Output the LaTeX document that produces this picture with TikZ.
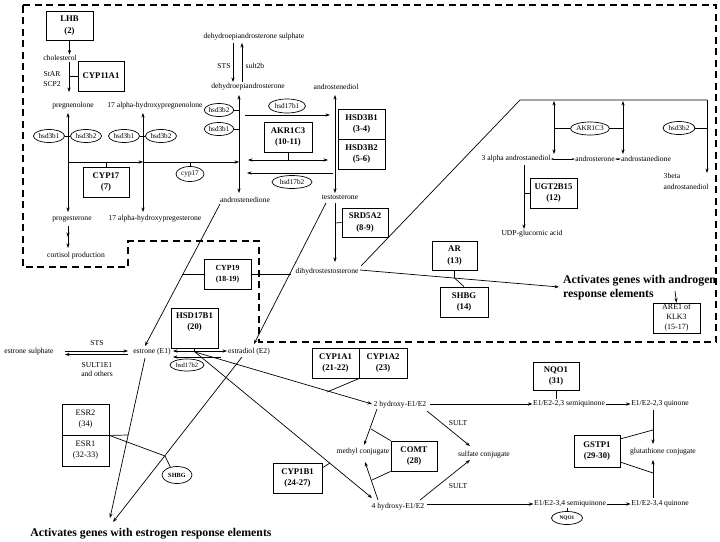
\documentclass[tikz,border=0pt]{standalone}
\usepackage{fontspec}
\setmainfont{Liberation Serif}
\usetikzlibrary{arrows.meta,shapes.geometric,calc,decorations.markings}
\begin{document}
\begin{tikzpicture}[x=1pt,y=-1pt,
  lbl/.style={font=\fontsize{7.6}{8.5}\selectfont, inner sep=0.5pt},
  bx/.style={draw, line width=0.8pt, font=\bfseries\fontsize{8.7}{11.5}\selectfont, align=center, inner sep=0pt, minimum width=47pt, minimum height=30pt},
  ell/.style={draw, ellipse, line width=0.7pt, font=\fontsize{7.2}{8}\selectfont, inner sep=0pt, minimum width=31pt, minimum height=13pt},
  ln/.style={line width=0.7pt},
  arr/.style={ln, -{Stealth[length=4.5pt,width=3.2pt]}},
  darr/.style={ln, {Stealth[length=4.5pt,width=3.2pt]}-{Stealth[length=4.5pt,width=3.2pt]}},
  sarr/.style={line width=0.5pt, {Stealth[length=2.5pt,width=2pt]}-{Stealth[length=2.5pt,width=2pt]}},
  big/.style={font=\bfseries\fontsize{11.8}{14}\selectfont, inner sep=0pt},
  bound/.style={line width=1.8pt, dash pattern=on 7pt off 4.5pt},
]
\useasboundingbox (0,0) rectangle (720,541);
\fill[white] (0,0) rectangle (720,541);

% dashed boundary
\draw[bound] (23,5) -- (716,5) -- (716,342) -- (259,342) -- (259,241) -- (128,241) -- (128,267) -- (23,267) -- cycle;

% ---------- boxes ----------
\node[bx, minimum height=29pt] (lhb) at (69.5,25.5) {LHB\\(2)};
\node[bx, minimum width=46pt] (cyp11a1) at (101,76) {CYP11A1};
\node[bx, minimum width=46pt] (cyp17) at (106,182) {CYP17\\(7)};
\node[bx, minimum width=48pt] (akr1c3) at (288,137) {AKR1C3\\(10-11)};
\node[bx] (hsd3b1) at (361.5,124) {HSD3B1\\(3-4)};
\node[bx] (hsd3b2) at (361.5,154) {HSD3B2\\(5-6)};
\node[bx, minimum width=46pt, minimum height=29pt] (srd5a2) at (365,222.5) {SRD5A2\\(8-9)};
\node[bx] (ugt) at (553.5,193) {UGT2B15\\(12)};
\node[bx, font=\bfseries\fontsize{7.8}{11}\selectfont] (cyp19) at (227.5,274) {CYP19\\(18-19)};
\node[bx, minimum width=45pt, minimum height=29pt] (ar) at (454.5,255.5) {AR\\(13)};
\node[bx, minimum width=48pt] (shbg14) at (464,302) {SHBG\\(14)};
\node[bx, font=\fontsize{8}{10}\selectfont] (are1) at (676.5,318) {ARE1 of\\KLK3\\(15-17)};
\node[bx, minimum height=40pt] (hsd17b1) at (194.5,328) {HSD17B1\\(20)\\[2pt]};
\node[bx] (cyp1a1) at (335.5,363) {CYP1A1\\(21-22)};
\node[bx, minimum width=48pt] (cyp1a2) at (383,363) {CYP1A2\\(23)};
\node[bx, minimum width=46pt, minimum height=28pt] (nqo1) at (556,376) {NQO1\\(31)};
\node[bx, minimum width=46pt] (comt) at (414,456) {COMT\\(28)};
\node[bx, minimum width=46pt, minimum height=32pt] (gstp1) at (597,451) {GSTP1\\(29-30)};
\node[bx, minimum width=49pt] (cyp1b1) at (297.5,478) {CYP1B1\\(24-27)};
\node[bx, minimum height=31pt, font=\fontsize{8.4}{11}\selectfont] (esr2) at (85.5,419.5) {ESR2\\(34)};
\node[bx, minimum height=31pt, font=\fontsize{8.4}{11}\selectfont] (esr1) at (85.5,450.5) {ESR1\\(32-33)};

% ---------- ellipses ----------
\node[ell] (e_hsd3b1a) at (49,136) {hsd3b1};
\node[ell] (e_hsd3b2a) at (86,136) {hsd3b2};
\node[ell] (e_hsd3b1b) at (124,136) {hsd3b1};
\node[ell] (e_hsd3b2b) at (161,136) {hsd3b2};
\node[ell, minimum width=28pt, minimum height=15pt] (e_cyp17) at (190,174) {cyp17};
\node[ell, minimum width=29pt] (e_hsd3b2c) at (219,110) {hsd3b2};
\node[ell, minimum width=29pt] (e_hsd3b1c) at (219,129) {hsd3b1};
\node[ell, minimum width=37pt, minimum height=14pt] (e_hsd17b1) at (287,106) {hsd17b1};
\node[ell, minimum width=40pt, minimum height=13pt] (e_hsd17b2) at (292,182) {hsd17b2};
\node[ell, minimum width=39pt] (e_akr) at (590,128.5) {AKR1C3};
\node[ell, minimum width=32pt] (e_hsd3b2d) at (679,128) {hsd3b2};
\node[ell, minimum width=34pt, minimum height=12pt, font=\fontsize{6.6}{8}\selectfont] (e_hsd17b2f) at (187,365) {hsd17b2};
\node[ell, minimum width=30pt, minimum height=17pt, font=\bfseries\fontsize{6.3}{8}\selectfont] (e_shbg) at (177,475) {SHBG};
\node[ell, minimum width=31pt, minimum height=13pt, font=\bfseries\fontsize{5.3}{7}\selectfont] (e_nqo1) at (567,518) {NQO1};

% ---------- labels ----------
\node[lbl] (chol) at (60,58) {cholesterol};
\node[lbl] (star) at (52,74) {StAR};
\node[lbl] (scp2) at (52,84) {SCP2};
\node[lbl] (preg) at (73,106) {pregnenolone};
\node[lbl] (ohpreg) at (155,106) {17 alpha-hydroxypregnenolone};
\node[lbl] (prog) at (72,219) {progesterone};
\node[lbl] (ohprog) at (155,219) {17 alpha-hydroxypregesterone};
\node[lbl] (cort) at (76,256) {cortisol production};
\node[lbl] (dheas) at (254,37) {dehydroepiandrosterone sulphate};
\node[lbl] (sts1) at (224,66) {STS};
\node[lbl] (sult2b) at (255,66) {sult2b};
\node[lbl] (dhea) at (248,87) {dehydroepiandrosterone};
\node[lbl] (adiol) at (336,87) {androstenediol};
\node[lbl] (adione) at (245,200) {androstenedione};
\node[lbl] (testo) at (340,197) {testosterone};
\node[lbl] (dht) at (327,272) {dihydrostestosterone};
\node[lbl] (aadiol) at (516,159) {3 alpha androstanediol};
\node[lbl] (asterone) at (595,159) {androsterone};
\node[lbl] (asdione) at (646,159) {androstanedione};
\node[lbl, align=left, anchor=north west, font=\fontsize{7.6}{11}\selectfont] (bdiol) at (663,173) {3beta\\androstanediol};
\node[lbl] (udp) at (532,234) {UDP-glucornic acid};
\node[lbl] (esul) at (29,352) {estrone sulphate};
\node[lbl] (sts2) at (97,343) {STS};
\node[lbl, align=center, font=\fontsize{7.6}{9}\selectfont] (sult1e1) at (97,369.5) {SULT1E1\\and others};
\node[lbl] (e1) at (152,352) {estrone (E1)};
\node[lbl] (e2) at (249,352) {estradiol (E2)};
\node[lbl] (oh2) at (400,405) {2 hydroxy-E1/E2};
\node[lbl] (oh4) at (398,507) {4 hydroxy-E1/E2};
\node[lbl] (meth) at (363,452) {methyl conjugate};
\node[lbl] (sulf) at (484,455) {sulfate conjugate};
\node[lbl] (sult1) at (458,423) {SULT};
\node[lbl] (sult2) at (458,486) {SULT};
\node[lbl] (sq23) at (569,404) {E1/E2-2,3 semiquinone};
\node[lbl] (q23) at (660,404) {E1/E2-2,3 quinone};
\node[lbl] (glut) at (663,452) {glutathione conjugate};
\node[lbl] (sq34) at (570,504) {E1/E2-3,4 semiquinone};
\node[lbl] (q34) at (660,504) {E1/E2-3,4 quinone};
\node[big, align=left, anchor=north west] (actA) at (563,275) {Activates genes with androgen\\response elements};
\node[big] (actE) at (151,534) {Activates genes with estrogen response elements};

% ---------- connectors: top left ----------
\draw[arr] (lhb.south) -- (lhb.south |- chol.north);
\draw[arr] (69,62) -- (69,92);
\draw[ln] (69,76) -- (cyp11a1.west);
\draw[darr] (68,113) -- (68,212);
\draw[darr] (143,113) -- (143,212);
\draw[ln] (e_hsd3b1a) -- (e_hsd3b2a);
\draw[ln] (e_hsd3b1b) -- (e_hsd3b2b);
\draw[arr] (68,162) -- (143,162);
\draw[arr] (143,162) -- (239,162);
\draw[ln] (cyp17.north) -- (106,162);
\draw[ln] (e_cyp17.north) -- (190,162);
\draw[arr, postaction={decorate}, decoration={markings, mark=at position 0.5 with {\arrow{Stealth[length=4.5pt,width=3.2pt]}}}] (68,226) -- (68,248);
\draw[arr] (233,43) -- (233,82);
\draw[arr] (242,82) -- (242,43);
\draw[darr] (239,95) -- (239,193);
\draw[ln] (e_hsd3b2c.east) -- (239,110);
\draw[ln] (e_hsd3b1c.east) -- (239,129);
\draw[arr] (245,115) -- (330,115);
\draw[ln] (akr1c3.south) -- (288,160);
\draw[darr] (248,160) -- (328,160);
\draw[arr] (333,173) -- (247,173);
\draw[darr] (335,95) -- (335,193);
\draw[arr] (335,203) -- (335,262);
\draw[ln] (335,223) -- (srd5a2.west);

% ---------- androgen right ----------
\draw[ln] (361,266) -- (520,100) -- (707,100);
\draw[arr] (707,100) -- (707,173);
\draw[darr] (554,101) -- (554,154);
\draw[darr] (623,101) -- (623,154);
\draw[ln] (554,128.5) -- (e_akr.west);
\draw[ln] (e_akr.east) -- (623,128.5);
\draw[ln] (e_hsd3b2d.east) -- (707,128);
\draw[sarr] (aadiol.east) -- (asterone.west);
\draw[sarr] (asterone.east) -- (asdione.west);
\draw[arr] (524,165) -- (524,229);
\draw[ln] (524,193) -- (ugt.west);
\draw[arr] (360,270) -- (559,287);
\draw[ln] (ar.south) -- (454.5,278) -- (shbg14.north);
\draw[arr] (675,291) -- (are1.north);

% ---------- diagonals to estrogens ----------
\draw[arr] (220,204) -- (145,346);
\draw[ln] (182,274) -- (cyp19.west);
\draw[arr] (326,203) -- (254,344);
\draw[ln] (cyp19.east) -- (291,274);

% ---------- estrogen region ----------
\draw[arr] (65,351) -- (128,351);
\draw[arr] (128,354.5) -- (65,354.5);
\draw[darr] (173,351) -- (227,351);
\draw[arr] (221,357) -- (173,357);
\draw[ln] (hsd17b1.south) -- (194.5,351);
\draw[arr] (195,352) -- (372,404);
\draw[arr] (195,352) -- (372,498);
\draw[ln] (cyp1a1.south east) -- (327,392);
\draw[ln] (322,468) -- (330,463);
\draw[arr] (145,358) -- (110,518);
\draw[arr] (242,357) -- (113,522);
\draw[ln] (esr2.south east) -- (128,435);
\draw[ln] (esr2.south east) -- (165,456) -- (e_shbg.130);

\draw[arr] (430,404) -- (sq23.west);
\draw[arr] (sq23.east) -- (q23.west);
\draw[ln] (nqo1.south) -- (556,399);
\draw[arr] (653,410) -- (653,444);
\draw[arr] (653,498) -- (653,460);
\draw[ln] (620,439) -- (653,430);
\draw[ln] (620,462) -- (653,473);
\draw[arr] (427,504) -- (sq34.west);
\draw[arr] (sq34.east) -- (q34.west);
\draw[ln] (567,508) -- (e_nqo1.north);
\draw[arr] (377,409) -- (364,445);
\draw[arr] (378,500) -- (365,462);
\draw[ln] (comt.north west) -- (371,429);
\draw[ln] (comt.south west) -- (372,480);
\draw[arr] (427,411) -- (470,446);
\draw[arr] (420,500) -- (470,460);
\end{tikzpicture}
\end{document}
